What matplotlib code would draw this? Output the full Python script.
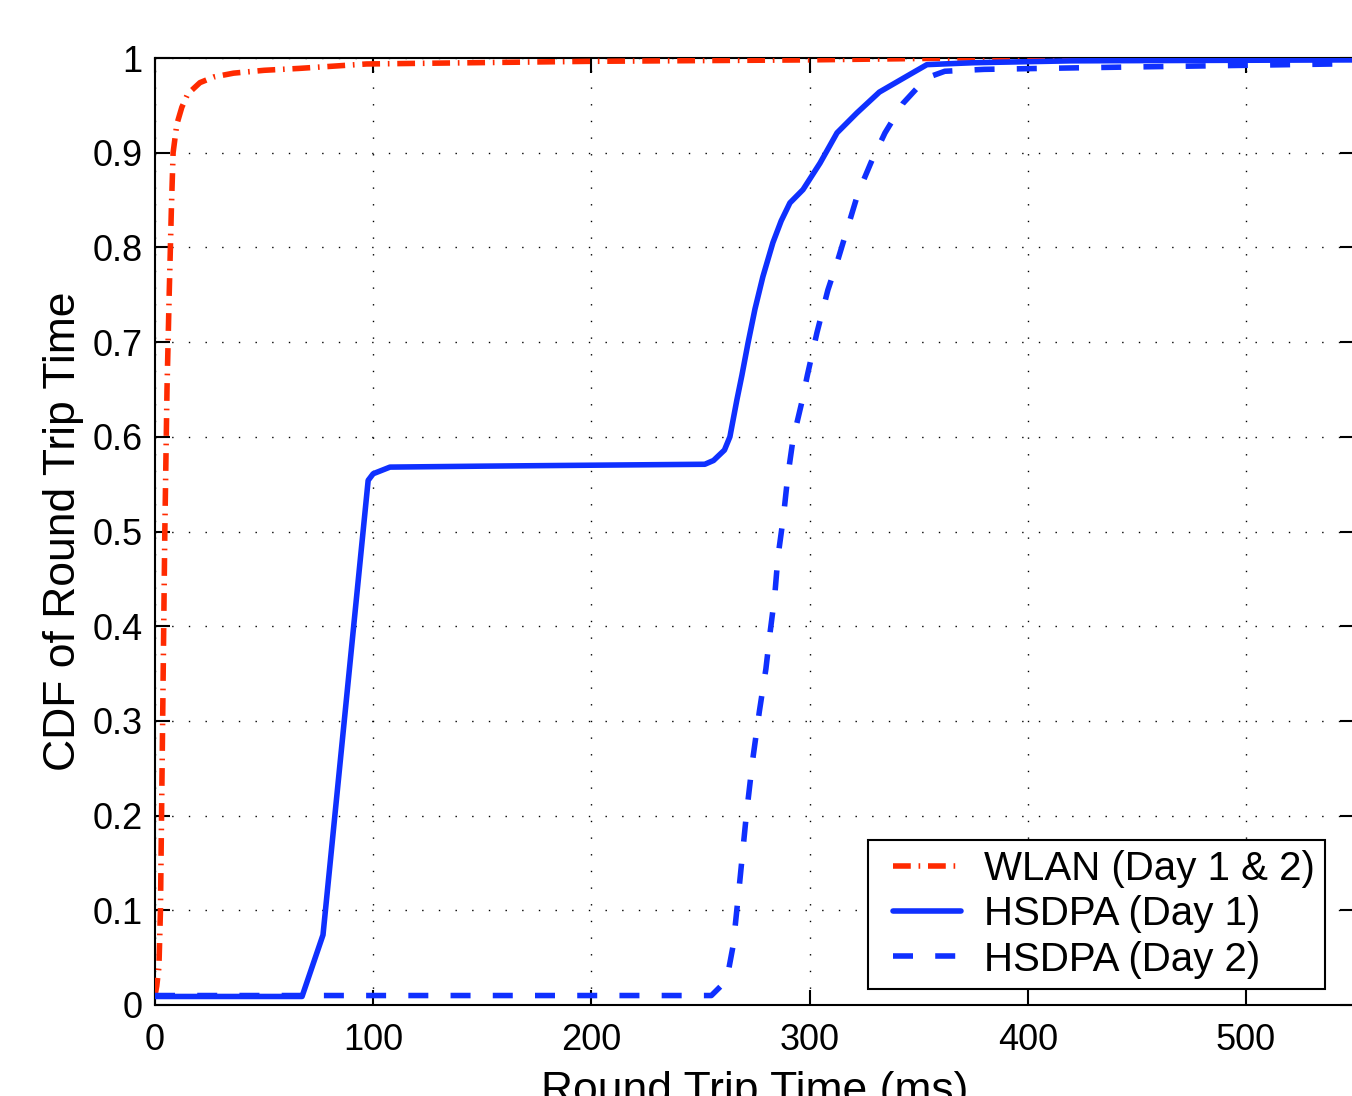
import matplotlib
matplotlib.use("Agg")
import matplotlib.pyplot as plt
from matplotlib.legend_handler import HandlerLine2D

plt.rcParams['font.family'] = ['Liberation Sans', 'DejaVu Sans']

wlan_x = [0, 0.8, 1.8, 2.5, 3.5, 4.5, 5.5, 6.5, 7.5, 8.3, 10, 12.3, 15, 20.6, 27, 36, 50, 66, 97, 134, 200, 300, 370, 550]
wlan_y = [0.01, 0.02, 0.04, 0.1, 0.3, 0.5, 0.65, 0.75, 0.84, 0.9, 0.93, 0.948, 0.962, 0.974, 0.98, 0.984, 0.987, 0.989, 0.9937, 0.9947, 0.9965, 0.998, 1.0, 1.0]

day1_x = [0, 67.4, 77, 97.7, 100, 107.7, 150, 200, 252, 256, 261, 263.5, 266.7, 269, 271.8, 275, 278.6, 283.2, 287, 291, 297, 304.8, 312.6, 321.7, 332, 347, 353.8, 375, 420, 550]
day1_y = [0.009, 0.009, 0.074, 0.554, 0.561, 0.568, 0.569, 0.570, 0.571, 0.575, 0.586, 0.60, 0.639, 0.665, 0.699, 0.735, 0.769, 0.805, 0.828, 0.847, 0.861, 0.889, 0.921, 0.942, 0.964, 0.984, 0.993, 0.995, 0.997, 0.998]

day2_x = [0, 255, 262, 265, 268, 271, 274, 277, 280, 282, 284, 285.5, 288, 290, 292.4, 296.4, 299, 303.4, 308.4, 313, 317.6, 322.2, 328.6, 334.6, 342.8, 352, 356, 362, 380, 433, 550]
day2_y = [0.01, 0.01, 0.026, 0.063, 0.13, 0.2, 0.26, 0.31, 0.355, 0.395, 0.431, 0.473, 0.515, 0.558, 0.597, 0.636, 0.665, 0.71, 0.755, 0.787, 0.822, 0.857, 0.892, 0.921, 0.952, 0.975, 0.981, 0.986, 0.988, 0.99, 0.994]

labels = ['WLAN (Day 1 & 2)', 'HSDPA (Day 1)', 'HSDPA (Day 2)']
xticks = [0, 100, 200, 300, 400, 500]
yticks = [0, 0.1, 0.2, 0.3, 0.4, 0.5, 0.6, 0.7, 0.8, 0.9, 1]
ytick_labels = ['0', '0.1', '0.2', '0.3', '0.4', '0.5', '0.6', '0.7', '0.8', '0.9', '1']

red = '#ff2a00'
blue = '#0f30ff'

W, H = 1352, 1096
fig = plt.figure(figsize=(W / 100, H / 100), dpi=100)
ax = fig.add_axes([155 / W, (H - 1005) / H, 1200 / W, 947 / H])

lw = 4.0
l_wlan, = ax.plot(wlan_x, wlan_y, color=red, lw=lw, dashes=[3.2, 1.4, 0.3, 1.4],
                  dash_capstyle='butt', solid_joinstyle='round', zorder=3)
l_d2, = ax.plot(day2_x, day2_y, color=blue, lw=lw, dashes=[3.6, 4.0],
                dash_capstyle='butt', zorder=4)
l_d1, = ax.plot(day1_x, day1_y, color=blue, lw=lw, solid_joinstyle='round',
                solid_capstyle='round', zorder=5)

ax.set_xlim(0, 550)
ax.set_ylim(0, 1)
ax.set_xticks(xticks)
ax.set_xticklabels([str(v) for v in xticks])
ax.set_yticks(yticks)
ax.set_yticklabels(ytick_labels)

ax.grid(True, color='black', linestyle=(0, (1, 11)), linewidth=1.0)
ax.set_axisbelow(True)

ax.tick_params(direction='in', length=11, width=1.5, labelsize=26, top=True, right=True,
               pad=9)
ax.tick_params(axis='x', pad=13)
for s in ax.spines.values():
    s.set_linewidth(1.5)

ax.set_xlabel('Round Trip Time (ms)', fontsize=32, labelpad=9)
ax.set_ylabel('CDF of Round Trip Time', fontsize=32, labelpad=6)

hmap = {l_wlan: HandlerLine2D(xpad=0.375), l_d1: HandlerLine2D(xpad=0.375),
        l_d2: HandlerLine2D(xpad=0.375)}
leg = ax.legend([l_wlan, l_d1, l_d2], labels, loc='upper left',
                bbox_to_anchor=(868 / W, 1 - 840 / H), bbox_transform=fig.transFigure,
                borderaxespad=0, fontsize=29, fancybox=False, framealpha=1,
                edgecolor='black', handlelength=2.05, handletextpad=0.58,
                labelspacing=0.18, borderpad=0.25, handler_map=hmap)
leg.get_frame().set_linewidth(1.5)

fig.savefig('out.png', dpi=100)
